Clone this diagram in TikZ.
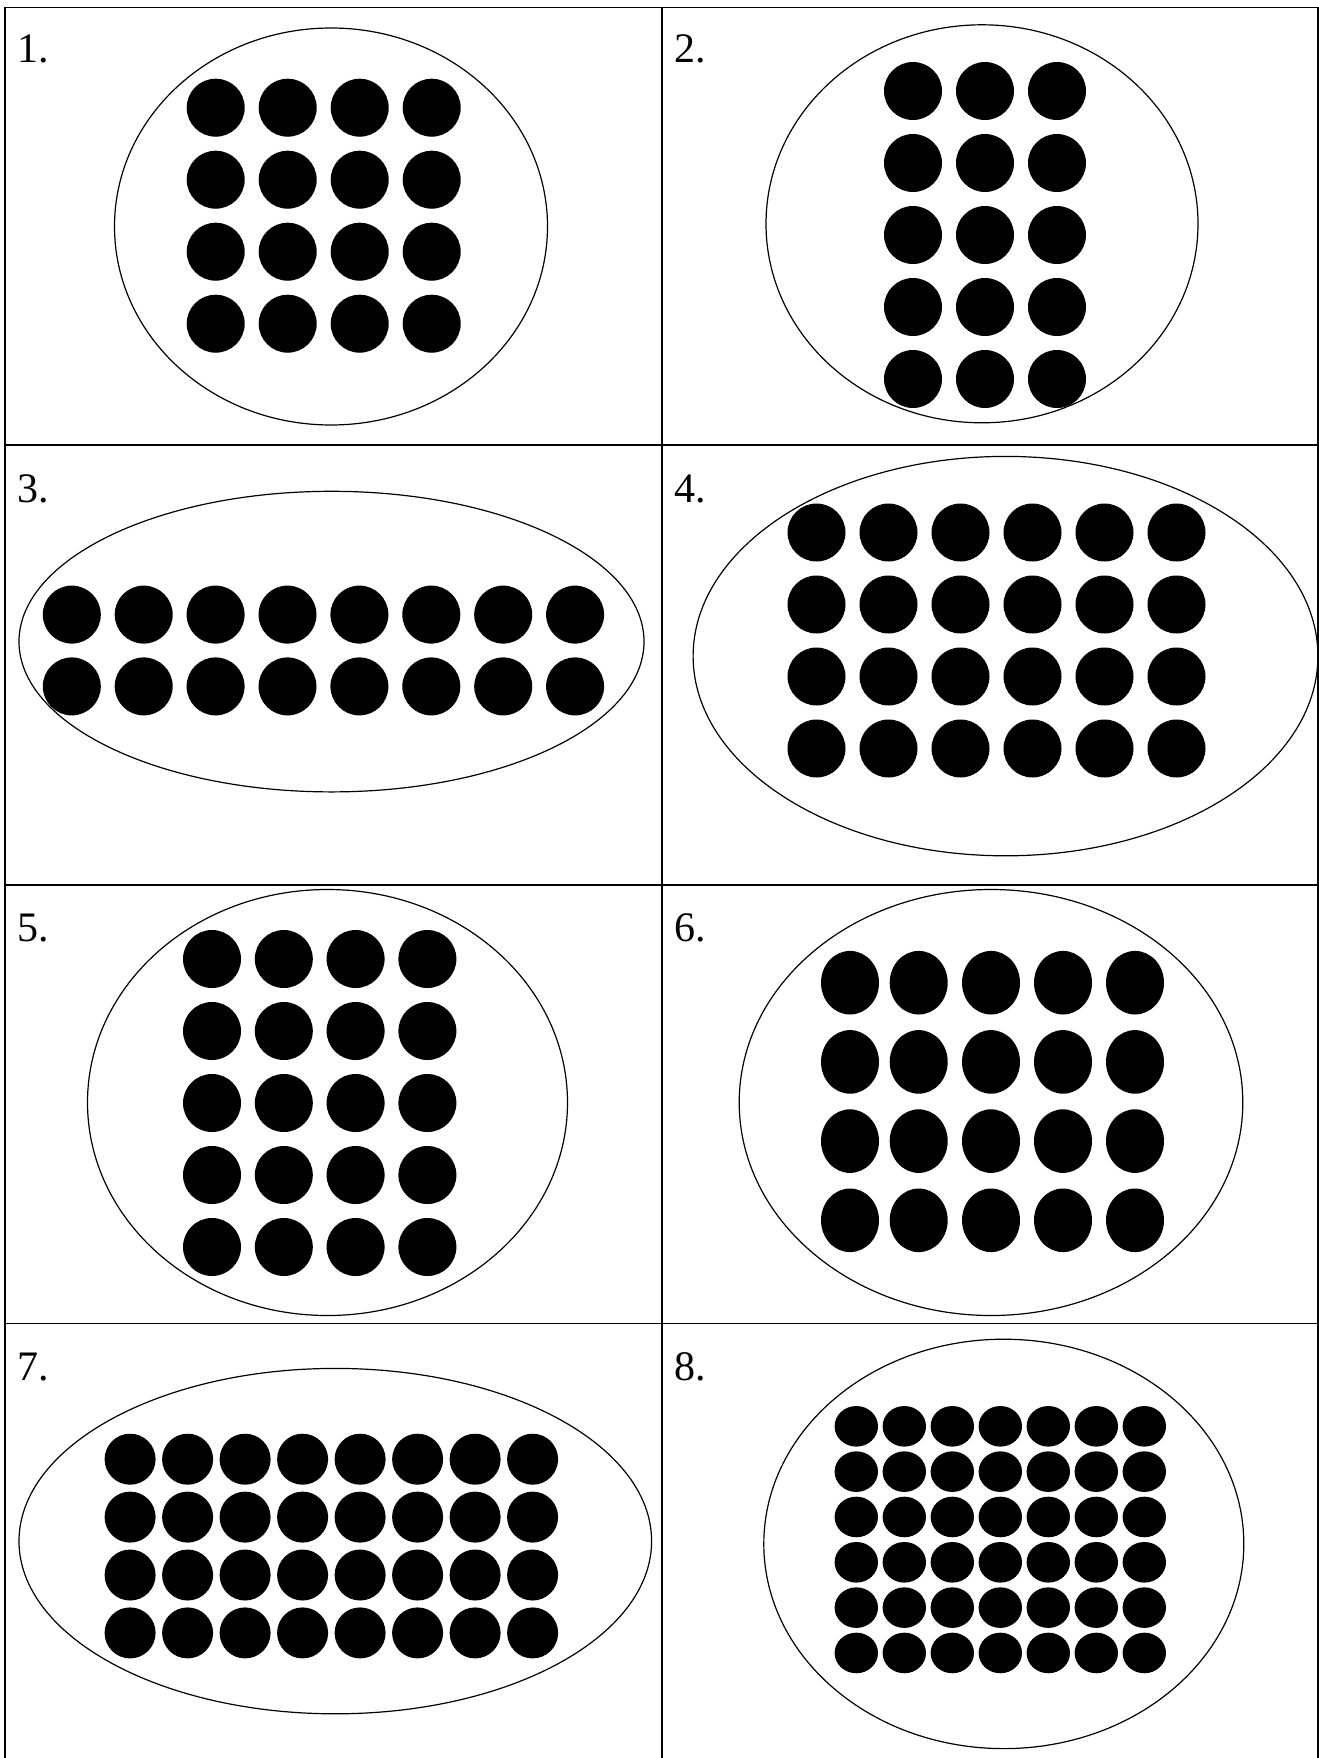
\documentclass[tikz,border=0pt]{standalone}
\usepackage{fontspec}
\setmainfont{Liberation Serif}
\tikzset{
  grid/.style={line width=1.5pt},
  oval/.style={line width=1.2pt},
  dot/.style={fill=black},
  lbl/.style={anchor=base west, inner sep=0pt, font=\fontsize{42}{50}\selectfont}
}
\begin{document}
\begin{tikzpicture}[x=1pt,y=-1pt]
\useasboundingbox (0,0) rectangle (1319,1758);
% grid
\draw[grid] (5,1758) -- (5,7.5) -- (1318,7.5) -- (1318,1758);
\draw[grid] (662,7.5) -- (662,1758);
\draw[grid] (5,445) -- (1318,445);
\draw[grid] (5,885) -- (1318,885);
\draw[grid] (5,1323.5) -- (1318,1323.5);
% labels
\node[lbl] (l1) at (17,63) {1.};
\node[lbl] (l2) at (674,63) {2.};
\node[lbl] (l3) at (17,502) {3.};
\node[lbl] (l4) at (674,502) {4.};
\node[lbl] (l5) at (17,941.5) {5.};
\node[lbl] (l6) at (674,941.5) {6.};
\node[lbl] (l7) at (17,1380.5) {7.};
\node[lbl] (l8) at (674,1380.5) {8.};
% panel 1
\draw[oval] (331,226.5) ellipse [x radius=216.5pt, y radius=198.5pt];
\foreach \i in {0,...,3} \foreach \j in {0,...,3}
  \fill[dot] (215.7+72*\i,107.7+72*\j) circle [radius=29pt];
% panel 2
\draw[oval] (982,223.8) ellipse [x radius=216pt, y radius=199pt];
\foreach \i in {0,...,2} \foreach \j in {0,...,4}
  \fill[dot] (913+72*\i,91+72*\j) circle [radius=29pt];
% panel 3
\draw[oval] (331.5,641.6) ellipse [x radius=312.5pt, y radius=150.3pt];
\foreach \i in {0,...,7} \foreach \j in {0,...,1}
  \fill[dot] (71.8+71.9*\i,614.6+71.8*\j) circle [radius=29pt];
% panel 4
\draw[oval] (1005.5,656.1) ellipse [x radius=312.4pt, y radius=199.7pt];
\foreach \i in {0,...,5} \foreach \j in {0,...,3}
  \fill[dot] (816.5+72*\i,532.5+72*\j) circle [radius=29pt];
% panel 5
\draw[oval] (327.5,1102.5) ellipse [x radius=240pt, y radius=213pt];
\foreach \i in {0,...,3} \foreach \j in {0,...,4}
  \fill[dot] (212+71.8*\i,959+72*\j) circle [radius=29pt];
% panel 6
\draw[oval] (991,1102.5) ellipse [x radius=251.8pt, y radius=213pt];
\foreach \x in {850,918.7,991,1063,1135} \foreach \j in {0,...,3}
  \fill[dot] (\x,982.7+79.2*\j) ellipse [x radius=29pt, y radius=31.8pt];
% panel 7
\draw[oval] (335.3,1541.1) ellipse [x radius=316.3pt, y radius=172.7pt];
\foreach \i in {0,...,7} \foreach \j in {0,...,3}
  \fill[dot] (130.1+57.5*\i,1459.2+57.9*\j) circle [radius=25.5pt];
% panel 8
\draw[oval] (1003.8,1543.9) ellipse [x radius=240pt, y radius=204.7pt];
\foreach \i in {0,...,6} \foreach \j in {0,...,5}
  \fill[dot] (856.3+48*\i,1426.3+45.33*\j) ellipse [x radius=21.7pt, y radius=20.3pt];
\end{tikzpicture}
\end{document}
